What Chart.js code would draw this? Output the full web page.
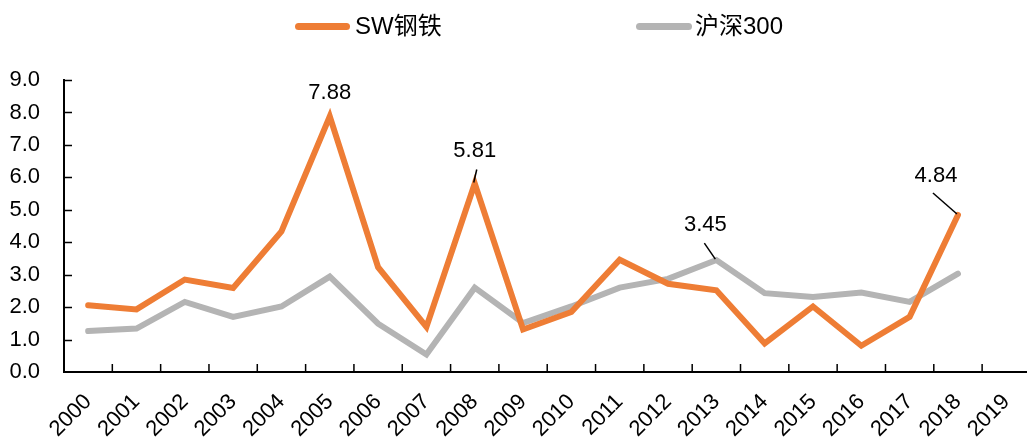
<!DOCTYPE html>
<html>
<head>
<meta charset="utf-8">
<script src="https://cdn.jsdelivr.net/npm/chart.js@4/dist/chart.umd.min.js"></script>
<style>
  body { margin: 0; overflow: hidden; background: #fff; }
  #wrap { position: relative; width: 1034px; height: 441px; }
  .legend { position: absolute; top: 0; left: 0; width: 1027px; height: 52px;
    font-family: "Liberation Sans", Arial, "Noto Sans CJK SC", sans-serif; font-size: 24px; color: #000; }
  .legend span.line { position: absolute; top: 23px; height: 7px; border-radius: 4px; }
  .legend span.txt { position: absolute; top: 12px; line-height: 28px; }
</style>
</head>
<body>
<div id="wrap">
  <canvas id="steelChart"></canvas>
  <div class="legend">
    <span class="line" style="left:295px;width:55px;background:#EE7D35"></span>
    <span class="txt" style="left:355px">SW钢铁</span>
    <span class="line" style="left:636px;width:56px;background:#B4B4B4"></span>
    <span class="txt" style="left:695px">沪深300</span>
  </div>
</div>
<script>
// 年份
const years = ['2000', '2001', '2002', '2003', '2004', '2005', '2006', '2007', '2008', '2009',
  '2010', '2011', '2012', '2013', '2014', '2015', '2016', '2017', '2018', '2019'];
// SW钢铁
const steel = [2.06, 1.93, 2.85, 2.59, 4.33, 7.88, 3.23, 1.39, 5.81, 1.31,
  1.85, 3.46, 2.72, 2.52, 0.88, 2.02, 0.81, 1.70, 4.84, null];
// 沪深300
const hs300 = [1.26, 1.34, 2.16, 1.70, 2.02, 2.94, 1.49, 0.54, 2.60, 1.51,
  2.02, 2.60, 2.87, 3.45, 2.43, 2.31, 2.45, 2.16, 3.03, null];
const yTicks = [0, 1, 2, 3, 4, 5, 6, 7, 8, 9];

const FONT = '"Liberation Sans", Arial, sans-serif';

// 刻度线朝内
const innerTicks = {
  id: 'innerTicks',
  beforeDatasetsDraw(chart) {
    const { ctx, chartArea: a, scales: { x, y } } = chart;
    ctx.save();
    ctx.strokeStyle = '#000';
    ctx.lineWidth = 1.5;
    ctx.beginPath();
    yTicks.slice(1).forEach(v => {
      const py = Math.round(y.getPixelForValue(v)) + 0.5;
      ctx.moveTo(a.left, py);
      ctx.lineTo(a.left + 8, py);
    });
    for (let i = 1; i < years.length; i++) {
      const px = (x.getPixelForValue(i - 1) + x.getPixelForValue(i)) / 2;
      ctx.moveTo(px, a.bottom);
      ctx.lineTo(px, a.bottom - 8);
    }
    ctx.stroke();
    ctx.restore();
  }
};

// 数据标注
const callouts = {
  id: 'callouts',
  afterDatasetsDraw(chart, args, opts) {
    const { ctx } = chart;
    ctx.save();
    ctx.font = '22px ' + FONT;
    ctx.fillStyle = '#000';
    ctx.strokeStyle = '#000';
    ctx.lineWidth = 1.5;
    ctx.textAlign = 'center';
    ctx.textBaseline = 'middle';
    opts.items.forEach(it => {
      const el = chart.getDatasetMeta(it.ds).data[it.i];
      const val = chart.data.datasets[it.ds].data[it.i];
      ctx.fillText(val.toFixed(2), el.x + it.dx, el.y + it.dy);
      if (it.lead) {
        ctx.beginPath();
        ctx.moveTo(el.x + it.lead[0], el.y + it.lead[1]);
        ctx.lineTo(el.x - 1, el.y - 1);
        ctx.stroke();
      }
    });
    ctx.restore();
  }
};

new Chart(document.getElementById('steelChart'), {
  type: 'line',
  data: {
    labels: years,
    datasets: [
      { label: 'SW钢铁', data: steel, borderColor: '#EE7D35', backgroundColor: '#EE7D35',
        borderWidth: 6, pointRadius: 0, tension: 0, borderCapStyle: 'round' },
      { label: '沪深300', data: hs300, borderColor: '#B4B4B4', backgroundColor: '#B4B4B4',
        borderWidth: 6, pointRadius: 0, tension: 0, borderCapStyle: 'round' }
    ]
  },
  options: {
    responsive: true,
    maintainAspectRatio: false,
    animation: false,
    layout: { padding: { top: 80, right: 2, left: 0, bottom: 0 } },
    scales: {
      x: {
        offset: true,
        grid: { display: false },
        border: { display: true, color: '#000', width: 2 },
        ticks: {
          autoSkip: false, maxRotation: 45, minRotation: 45, padding: 9,
          color: '#000', font: { family: FONT, size: 22 }
        },
        afterFit: s => { s.height = 69; }
      },
      y: {
        min: 0, max: 9,
        grid: { display: false },
        border: { display: true, color: '#000', width: 2 },
        afterBuildTicks: s => { s.ticks = yTicks.map(v => ({ value: v })); },
        ticks: {
          padding: 16, color: '#000', font: { family: FONT, size: 22 },
          callback: v => v.toFixed(1)
        },
        afterFit: s => { s.width = 64; }
      }
    },
    plugins: {
      legend: { display: false },
      tooltip: { enabled: false },
      callouts: {
        items: [
          { ds: 0, i: 5, dx: 0, dy: -23 },
          { ds: 0, i: 8, dx: 0, dy: -33, lead: [2, -14] },
          { ds: 1, i: 13, dx: -11, dy: -35, lead: [-12, -17] },
          { ds: 0, i: 18, dx: -22, dy: -39, lead: [-25, -22] }
        ]
      }
    }
  },
  plugins: [innerTicks, callouts]
});
</script>
</body>
</html>
